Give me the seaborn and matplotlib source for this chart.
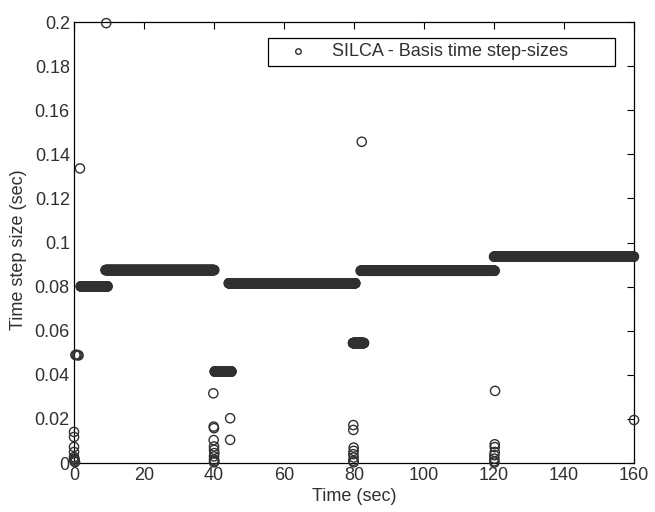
import numpy as np
import pandas as pd
import matplotlib
matplotlib.use('Agg')
import matplotlib.pyplot as plt
import seaborn as sns

# constant step-size stretches: start time, end time, step size (sec)
seg_start = [1.9, 9.0, 40.2, 44.2, 79.7, 81.9, 120.0]
seg_end   = [9.6, 40.1, 45.0, 80.4, 82.9, 120.2, 160.0]
seg_step  = [0.0801, 0.0875, 0.0415, 0.0815, 0.0544, 0.0872, 0.0936]

# isolated step sizes (restarts / events)
iso_t = [0.0, 0.0, 0.0, 0.0, 0.0, 0.1, 0.2, 0.3, 0.05,
         0.4, 0.7, 1.0, 1.3, 1.7, 9.2,
         39.8, 39.9, 40.0, 39.9, 40.0, 40.0, 40.1, 40.0, 40.0, 40.1, 40.0, 44.6, 44.6,
         79.8, 79.8, 79.9, 79.9, 79.8, 79.9, 79.8, 79.9, 82.2,
         120.3, 120.2, 120.2, 120.2, 120.1, 120.1, 120.1, 120.1,
         160.0]
iso_h = [0.0141, 0.0118, 0.0073, 0.0050, 0.0027, 0.0015, 0.0008, 0.0004, 0.0020,
         0.0490, 0.0490, 0.0490, 0.0488, 0.1336, 0.1995,
         0.0316, 0.0165, 0.0158, 0.0104, 0.0075, 0.0060, 0.0045, 0.0030, 0.0015, 0.0008, 0.0003, 0.0203, 0.0105,
         0.0172, 0.0150, 0.0070, 0.0055, 0.0040, 0.0025, 0.0010, 0.0003, 0.1457,
         0.0327, 0.0085, 0.0072, 0.0050, 0.0035, 0.0020, 0.0008, 0.0002,
         0.0195]

# time advances by the step size inside each stretch
t_all, h_all = [], []
for a, b, h in zip(seg_start, seg_end, seg_step):
    t = np.arange(a, b, h)
    t_all.append(t)
    h_all.append(np.full(len(t), h))
t_all.append(np.array(iso_t))
h_all.append(np.array(iso_h))
df = pd.DataFrame({'time': np.concatenate(t_all), 'step': np.concatenate(h_all)})

sns.set_style('white')
plt.rcParams['font.family'] = ['Liberation Sans', 'DejaVu Sans']
txt = '#303030'
fs = 13

fig = plt.figure(figsize=(6.55, 5.12), dpi=100)
ax = fig.add_axes([0.113, 0.0957, 0.855, 0.8613])

sns.scatterplot(data=df, x='time', y='step', ax=ax, marker='o', s=44,
                label='SILCA - Basis time step-sizes', zorder=3, clip_on=False)
pts = ax.collections[0]
pts.set_facecolor('none')
pts.set_edgecolor(txt)
pts.set_linewidth(1.0)

ax.set_xlim(0, 160)
ax.set_ylim(0, 0.2)
ax.set_xticks(np.arange(0, 161, 20))
ax.set_yticks(np.arange(0, 0.201, 0.02))
ax.set_yticklabels(['0', '0.02', '0.04', '0.06', '0.08', '0.1', '0.12',
                    '0.14', '0.16', '0.18', '0.2'])
ax.tick_params(direction='in', length=5, width=0.8, top=True, right=True,
               labelsize=fs, labelcolor=txt, color='black', pad=3)
for sp in ax.spines.values():
    sp.set_color('black')
    sp.set_linewidth(0.9)

ax.set_xlabel('Time (sec)', fontsize=fs, color=txt, labelpad=3)
ax.set_ylabel('Time step size (sec)', fontsize=fs, color=txt)
ax.yaxis.label.set_va('center')
ax.yaxis.set_label_coords(-0.1, 0.483)

leg = ax.legend(loc='upper left', bbox_to_anchor=(0.346, 0.896, 0.62, 0.068),
                mode='expand', fontsize=fs, frameon=True, fancybox=False,
                edgecolor='black', framealpha=1, handlelength=2.8,
                handletextpad=0.45, borderpad=0.3, borderaxespad=0,
                markerscale=0.6)
leg.get_frame().set_linewidth(0.9)
for t in leg.get_texts():
    t.set_color(txt)

fig.savefig('out.png', dpi=100, facecolor='white')
